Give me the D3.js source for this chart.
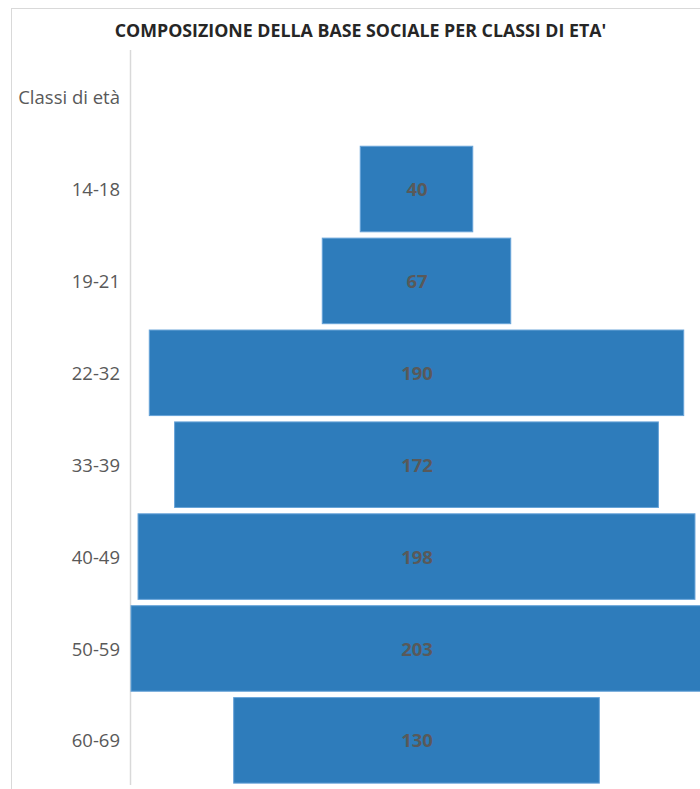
<!DOCTYPE html>
<html>
<head>
<meta charset="utf-8">
<script src="https://cdn.jsdelivr.net/npm/d3@7"></script>
<style>
  html, body { margin: 0; padding: 0; background: #ffffff; }
  svg { display: block; }
</style>
</head>
<body>
<svg id="chart" width="700" height="789"></svg>
<script>
// Age classes (the first row is the axis heading and carries no bar)
const categories = ["Classi di età", "14-18", "19-21", "22-32", "33-39", "40-49", "50-59", "60-69"];
const values = [null, 40, 67, 190, 172, 198, 203, 130];
const chartTitle = "COMPOSIZIONE DELLA BASE SOCIALE PER CLASSI DI ETA'";

const svg = d3.select("#chart");
const W = 700, H = 789;
const font = "'Open Sans', 'Liberation Sans', sans-serif";

// chart area frame
svg.append("rect")
  .attr("x", 11.5).attr("y", 8.5)
  .attr("width", W + 20).attr("height", H + 20)
  .attr("fill", "#ffffff")
  .attr("stroke", "#d9d9d9").attr("stroke-width", 1);

// title
svg.append("text")
  .attr("x", 360.5).attr("y", 36.5)
  .attr("text-anchor", "middle")
  .attr("font-family", font)
  .attr("font-weight", "bold")
  .attr("font-size", "17.8px")
  .attr("fill", "#262626")
  .text(chartTitle);

const axisX = 130.5;
const y = d3.scaleBand()
  .domain(categories)
  .range([50.5, 787])
  .paddingInner(0.069)
  .paddingOuter(0.042);

const maxV = d3.max(values);
// funnel: each bar is centred, spanning -v..v
const x = d3.scaleLinear()
  .domain([-maxV, maxV])
  .range([131, 702]);

// vertical category axis line
svg.append("line")
  .attr("x1", axisX).attr("x2", axisX)
  .attr("y1", 50).attr("y2", 785)
  .attr("stroke", "#d9d9d9").attr("stroke-width", 1.5);

const rows = categories.map((c, i) => ({ cat: c, v: values[i] }));

// bars
svg.append("g").selectAll("rect")
  .data(rows.filter(d => d.v != null))
  .join("rect")
  .attr("x", d => x(-d.v))
  .attr("y", d => y(d.cat))
  .attr("width", d => x(d.v) - x(-d.v))
  .attr("height", y.bandwidth())
  .attr("fill", "#2e7cbb")
  .attr("stroke", "#67a3d8")
  .attr("stroke-width", 1);

// value labels
svg.append("g").selectAll("text")
  .data(rows.filter(d => d.v != null))
  .join("text")
  .attr("x", x(0) + 0.5)
  .attr("y", d => y(d.cat) + y.bandwidth() / 2)
  .attr("dy", "0.38em")
  .attr("text-anchor", "middle")
  .attr("font-family", font)
  .attr("font-weight", "bold")
  .attr("font-size", "18.5px")
  .attr("fill", "#595959")
  .text(d => d.v);

// category labels
svg.append("g").selectAll("text")
  .data(rows)
  .join("text")
  .attr("x", 120)
  .attr("y", d => y(d.cat) + y.bandwidth() / 2)
  .attr("dy", "0.38em")
  .attr("text-anchor", "end")
  .attr("font-family", font)
  .attr("font-size", "18.5px")
  .attr("fill", "#595959")
  .text(d => d.cat);
</script>
</body>
</html>
